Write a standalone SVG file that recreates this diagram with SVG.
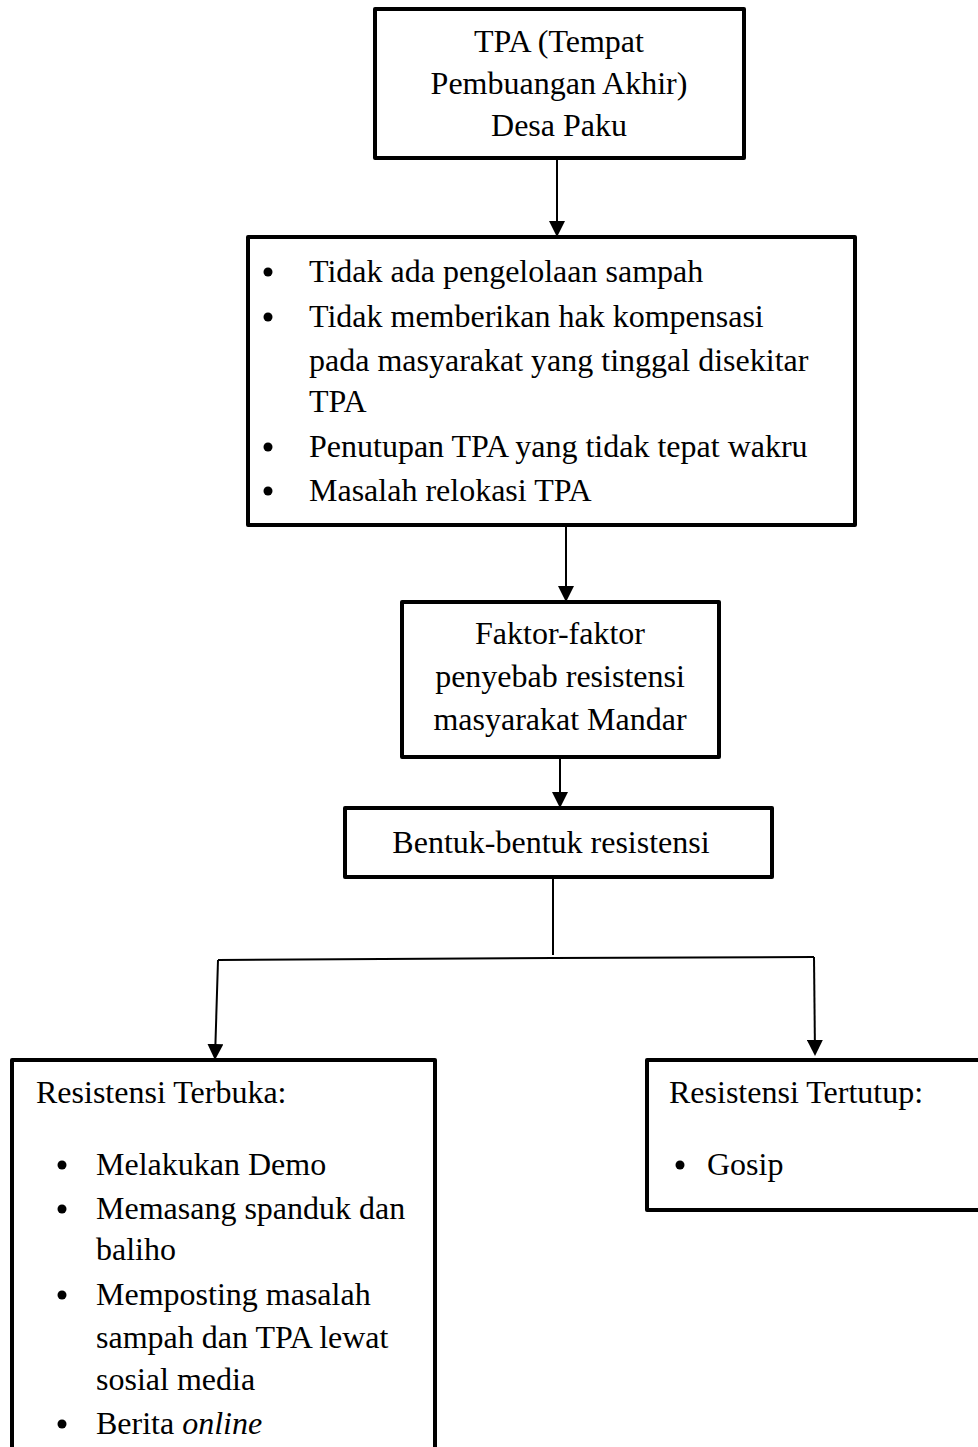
<svg xmlns="http://www.w3.org/2000/svg" width="978" height="1447" viewBox="0 0 978 1447">
<style>
.box{fill:#fff;stroke:#000;stroke-width:4;stroke-linejoin:round}
.t{font-family:"Liberation Serif","Times New Roman",serif;font-size:32px;fill:#000}
.c{text-anchor:middle}
.con{fill:none;stroke:#000;stroke-width:2}
.dot{fill:#000}
</style>
<defs>
<marker id="ah" markerWidth="8" markerHeight="8" refX="7" refY="4" orient="auto" markerUnits="strokeWidth">
<path d="M0,0 L8,4 L0,8 Z" fill="#000"/>
</marker>
</defs>
<g id="connectors">
<line class="con" x1="557" y1="160" x2="557" y2="235" marker-end="url(#ah)"/>
<line class="con" x1="566" y1="527" x2="566" y2="600" marker-end="url(#ah)"/>
<line class="con" x1="560" y1="759" x2="560" y2="806" marker-end="url(#ah)"/>
<line class="con" x1="553" y1="879" x2="553" y2="955"/>
<polyline class="con" points="218,960 553,958 814,957"/>
<line class="con" x1="218" y1="960" x2="215" y2="1058" marker-end="url(#ah)"/>
<line class="con" x1="814" y1="957" x2="815" y2="1054" marker-end="url(#ah)"/>
</g>
<g id="node-tpa">
<rect class="box" x="375" y="9" width="369" height="149"/>
<text class="t c" x="559" y="52">TPA (Tempat</text>
<text class="t c" x="559" y="94">Pembuangan Akhir)</text>
<text class="t c" x="559" y="136">Desa Paku</text>
</g>
<g id="node-masalah">
<rect class="box" x="248" y="237" width="607" height="288"/>
<circle class="dot" cx="268" cy="272" r="4.5"/>
<text class="t" x="309" y="282">Tidak ada pengelolaan sampah</text>
<circle class="dot" cx="268" cy="317" r="4.5"/>
<text class="t" x="309" y="327">Tidak memberikan hak kompensasi</text>
<text class="t" x="309" y="371">pada masyarakat yang tinggal disekitar</text>
<text class="t" x="309" y="412">TPA</text>
<circle class="dot" cx="268" cy="447" r="4.5"/>
<text class="t" x="309" y="457">Penutupan TPA yang tidak tepat wakru</text>
<circle class="dot" cx="268" cy="491" r="4.5"/>
<text class="t" x="309" y="501">Masalah relokasi TPA</text>
</g>
<g id="node-faktor">
<rect class="box" x="402" y="602" width="317" height="155"/>
<text class="t c" x="560" y="644">Faktor-faktor</text>
<text class="t c" x="560" y="687">penyebab resistensi</text>
<text class="t c" x="560" y="730">masyarakat Mandar</text>
</g>
<g id="node-bentuk">
<rect class="box" x="345" y="808" width="427" height="69"/>
<text class="t c" x="551" y="853">Bentuk-bentuk resistensi</text>
</g>
<g id="node-terbuka">
<rect class="box" x="12" y="1060" width="423" height="400"/>
<text class="t" x="36" y="1103">Resistensi Terbuka:</text>
<circle class="dot" cx="62" cy="1165" r="4.5"/>
<text class="t" x="96" y="1175">Melakukan Demo</text>
<circle class="dot" cx="62" cy="1209" r="4.5"/>
<text class="t" x="96" y="1219">Memasang spanduk dan</text>
<text class="t" x="96" y="1260">baliho</text>
<circle class="dot" cx="62" cy="1295" r="4.5"/>
<text class="t" x="96" y="1305">Memposting masalah</text>
<text class="t" x="96" y="1348">sampah dan TPA lewat</text>
<text class="t" x="96" y="1390">sosial media</text>
<circle class="dot" cx="62" cy="1424" r="4.5"/>
<text class="t" x="96" y="1434">Berita <tspan font-style="italic">online</tspan></text>
</g>
<g id="node-tertutup">
<rect class="box" x="647" y="1060" width="345" height="150"/>
<text class="t" x="669" y="1103">Resistensi Tertutup:</text>
<circle class="dot" cx="680" cy="1165" r="4.5"/>
<text class="t" x="707" y="1175">Gosip</text>
</g>
</svg>
